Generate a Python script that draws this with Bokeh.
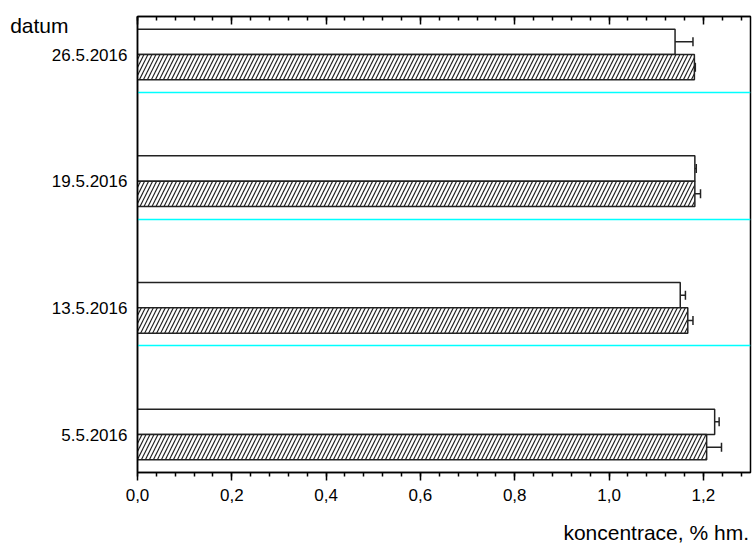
from bokeh.plotting import figure
from bokeh.models import (ColumnDataSource, Whisker, TeeHead, LinearAxis, FixedTicker,
                          SingleIntervalTicker, CustomJSTickFormatter, Range1d)
from bokeh.embed import file_html
from bokeh.resources import INLINE

# ---- data ----
dates = ["5.5.2016", "13.5.2016", "19.5.2016", "26.5.2016"]
positions = [1, 2, 3, 4]
series_a = [1.224, 1.151, 1.182, 1.140]        # white bars (upper)
series_a_err = [0.0095, 0.011, 0.003, 0.038]
series_b = [1.207, 1.167, 1.182, 1.181]        # hatched bars (lower)
series_b_err = [0.0315, 0.011, 0.012, 0.002]
x_ticks_interval = 0.2
x_label = "koncentrace, % hm."
y_label = "datum"

BAR_H = 0.2
FONT = "Liberation Sans"
X_START, X_END = 0.0, 1.3
Y_START, Y_END = 0.7, 4.3

src_a = ColumnDataSource(dict(
    y=[p + BAR_H / 2 for p in positions], v=series_a,
    lo=[v - e for v, e in zip(series_a, series_a_err)],
    hi=[v + e for v, e in zip(series_a, series_a_err)]))
src_b = ColumnDataSource(dict(
    y=[p - BAR_H / 2 for p in positions], v=series_b,
    lo=[v - e for v, e in zip(series_b, series_b_err)],
    hi=[v + e for v, e in zip(series_b, series_b_err)]))

p = figure(width=752, height=550, output_backend="svg", toolbar_location=None,
           x_range=Range1d(X_START, X_END), y_range=Range1d(Y_START, Y_END),
           min_border_left=137, min_border_right=2, min_border_top=16, min_border_bottom=78,
           x_axis_location=None, y_axis_location=None)
p.background_fill_color = "white"
p.border_fill_color = "white"
p.outline_line_color = "black"
p.outline_line_width = 1.5

# grid: only cyan separators between date groups
p.xgrid.visible = False
p.ygrid.ticker = FixedTicker(ticks=[pos - 0.3 for pos in positions[1:]])
p.ygrid.grid_line_color = "#00ffff"
p.ygrid.grid_line_width = 1.5

fmt = CustomJSTickFormatter(code="return tick.toFixed(1).replace('.', ',');")

xb = LinearAxis(ticker=SingleIntervalTicker(interval=x_ticks_interval, num_minor_ticks=5),
                formatter=fmt)
xb.axis_line_width = 1.5
xb.major_tick_line_width = 1.5
xb.minor_tick_line_width = 1.5
xb.major_tick_out = 8
xb.major_tick_in = 0
xb.minor_tick_out = 4
xb.minor_tick_in = 0
xb.major_label_standoff = 8
xb.major_label_text_font = FONT
xb.major_label_text_font_size = "17px"
xb.major_label_text_color = "black"
p.add_layout(xb, "below")

# x-axis title, right-aligned under the frame (carried by a bare secondary axis)
xtitle_x = X_END - 0.2
xtt = LinearAxis(ticker=FixedTicker(ticks=[xtitle_x]),
                 major_label_overrides={xtitle_x: x_label})
xtt.axis_line_color = None
xtt.major_tick_out = 0
xtt.major_tick_in = 0
xtt.minor_tick_out = 0
xtt.minor_tick_in = 0
xtt.major_label_standoff = 17
xtt.major_label_text_font = FONT
xtt.major_label_text_font_size = "21px"
xtt.major_label_text_color = "black"
p.add_layout(xtt, "below")

xt = LinearAxis(ticker=SingleIntervalTicker(interval=x_ticks_interval, num_minor_ticks=5),
                formatter=CustomJSTickFormatter(code="return '';"),
                major_label_text_font_size="0px")
xt.axis_line_width = 1.5
xt.major_tick_line_width = 1.5
xt.minor_tick_line_width = 1.5
xt.major_tick_out = 0
xt.major_tick_in = 8
xt.minor_tick_out = 0
xt.minor_tick_in = 4
xt.major_label_standoff = 0
p.add_layout(xt, "above")

yl = LinearAxis(ticker=FixedTicker(ticks=positions),
                major_label_overrides={pos: d for pos, d in zip(positions, dates)})
yl.axis_line_width = 1.5
yl.major_tick_out = 0
yl.major_tick_in = 0
yl.minor_tick_out = 0
yl.minor_tick_in = 0
yl.major_label_standoff = 10
yl.major_label_text_font = FONT
yl.major_label_text_font_size = "17px"
yl.major_label_text_color = "black"
p.add_layout(yl, "left")

# y-axis title "datum": horizontal text in the upper-left corner
title_y = Y_END - 0.07
yt = LinearAxis(ticker=FixedTicker(ticks=[title_y]),
                major_label_overrides={title_y: y_label})
yt.axis_line_color = None
yt.major_tick_out = 0
yt.major_tick_in = 0
yt.minor_tick_out = 0
yt.minor_tick_in = 0
yt.major_label_standoff = -20
yt.major_label_text_font = FONT
yt.major_label_text_font_size = "21px"
yt.major_label_text_color = "black"
p.add_layout(yt, "left")

# bars
p.hbar(y="y", left=0, right="v", height=BAR_H, source=src_a,
       fill_color="white", line_color="#222222", line_width=1.5)
p.hbar(y="y", left=0, right="v", height=BAR_H, source=src_b,
       fill_color="white", line_color="#222222", line_width=1.5,
       hatch_pattern="/", hatch_color="#222222", hatch_scale=8, hatch_weight=1.2)

# error bars
for src in (src_a, src_b):
    w = Whisker(source=src, base="y", lower="lo", upper="hi", dimension="width",
                line_color="#222222", line_width=1.5,
                lower_head=TeeHead(size=9, line_color="#222222", line_width=1.5),
                upper_head=TeeHead(size=9, line_color="#222222", line_width=1.5))
    p.add_layout(w)

open("out.html", "w").write(file_html(p, INLINE))
